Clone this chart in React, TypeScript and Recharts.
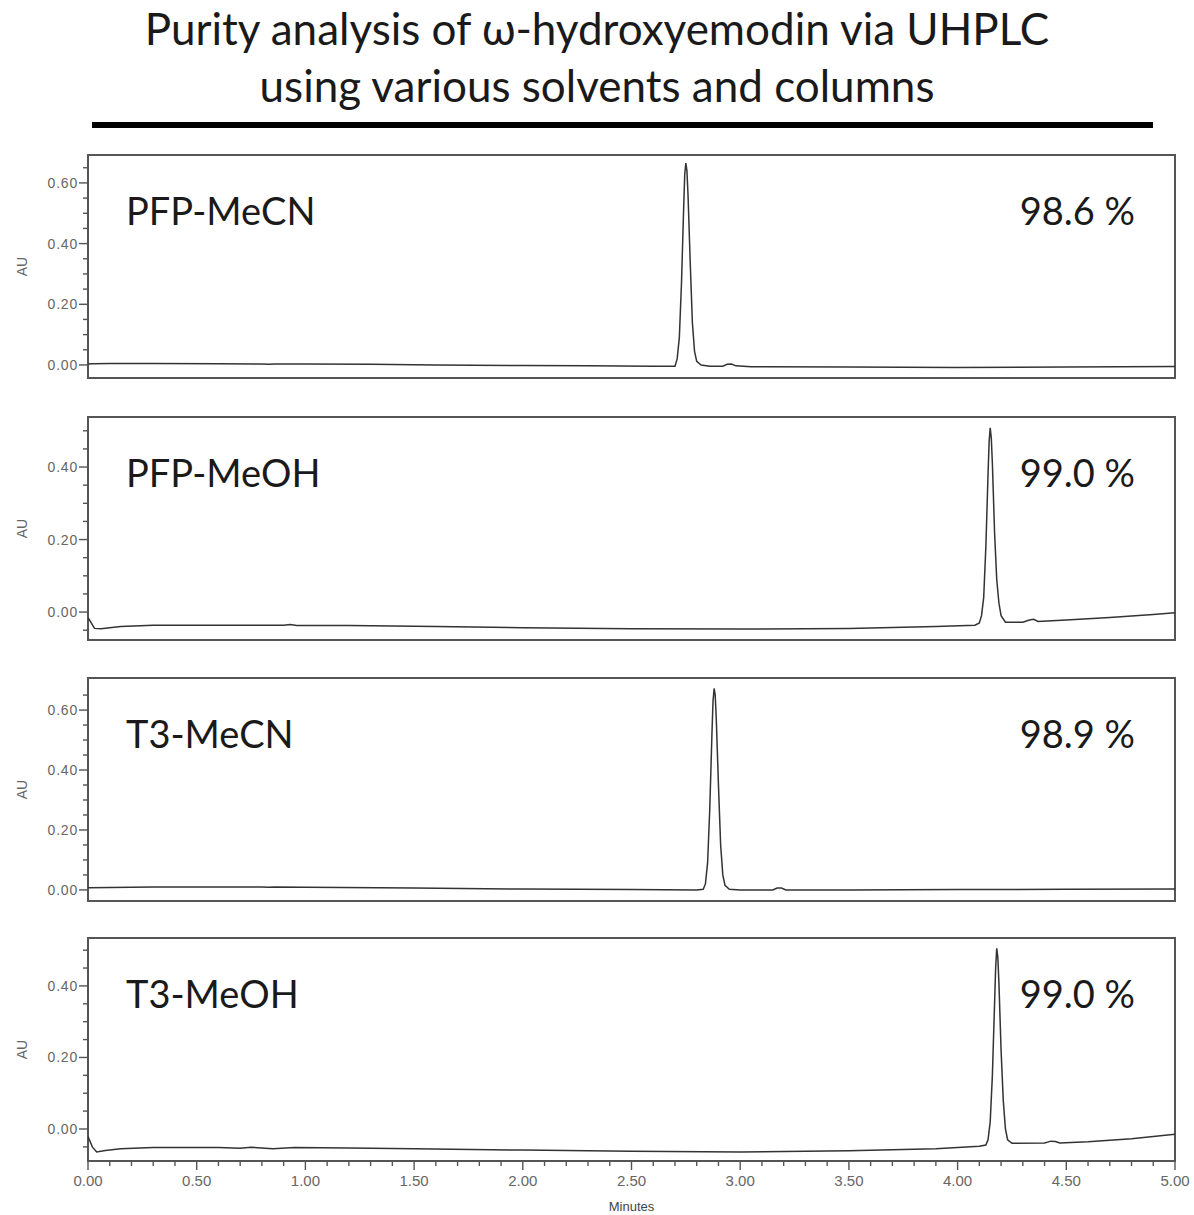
import { LineChart, Line, XAxis, YAxis, ReferenceArea } from "recharts";

// chromatogram traces, [minutes, AU]
const PFP_MECN: [number, number][] = [
  [0, 0.003], [0.02, 0.004], [0.1, 0.005], [0.3, 0.005], [0.6, 0.004], [0.8, 0.003],
  [0.83, 0.002], [0.86, 0.003], [1.0, 0.003], [1.3, 0.002], [1.6, 0.0], [2.0, -0.002],
  [2.3, -0.003], [2.6, -0.004], [2.7, -0.004], [2.71, 0.02], [2.72, 0.09], [2.73, 0.27],
  [2.74, 0.52], [2.745, 0.63], [2.75, 0.665], [2.755, 0.64], [2.76, 0.56], [2.77, 0.34],
  [2.78, 0.14], [2.79, 0.045], [2.8, 0.012], [2.82, 0.0], [2.86, -0.004], [2.92, -0.004],
  [2.94, 0.002], [2.96, 0.003], [2.98, -0.003], [3.05, -0.006], [3.5, -0.007],
  [4.0, -0.008], [4.5, -0.007], [5.0, -0.005],
];

const PFP_MEOH: [number, number][] = [
  [0, -0.015], [0.01, -0.025], [0.03, -0.045], [0.06, -0.046], [0.15, -0.04], [0.3, -0.036],
  [0.6, -0.036], [0.9, -0.036], [0.93, -0.034], [0.96, -0.037], [1.2, -0.037], [1.6, -0.04],
  [2.0, -0.043], [2.5, -0.046], [3.0, -0.047], [3.5, -0.045], [3.9, -0.04], [4.08, -0.036],
  [4.1, -0.03], [4.11, -0.01], [4.12, 0.04], [4.13, 0.18], [4.14, 0.38], [4.145, 0.47],
  [4.15, 0.508], [4.155, 0.48], [4.16, 0.41], [4.17, 0.22], [4.18, 0.09], [4.19, 0.025],
  [4.2, -0.01], [4.22, -0.028], [4.3, -0.028], [4.33, -0.022], [4.35, -0.02], [4.37, -0.026],
  [4.5, -0.022], [4.7, -0.015], [4.9, -0.007], [5.0, -0.002],
];

const T3_MECN: [number, number][] = [
  [0, 0.007], [0.1, 0.008], [0.3, 0.01], [0.6, 0.01], [0.8, 0.01], [0.83, 0.009],
  [0.86, 0.01], [1.0, 0.009], [1.5, 0.006], [2.0, 0.003], [2.5, 0.001], [2.8, 0.0],
  [2.83, 0.002], [2.84, 0.02], [2.85, 0.09], [2.86, 0.27], [2.87, 0.52], [2.875, 0.63],
  [2.88, 0.672], [2.885, 0.65], [2.89, 0.57], [2.9, 0.35], [2.91, 0.15], [2.92, 0.05],
  [2.93, 0.015], [2.95, 0.002], [3.0, 0.0], [3.15, 0.0], [3.17, 0.006], [3.19, 0.006],
  [3.21, 0.0], [3.5, 0.0], [4.0, 0.001], [4.5, 0.002], [5.0, 0.003],
];

const T3_MEOH: [number, number][] = [
  [0, -0.02], [0.005, -0.028], [0.02, -0.05], [0.04, -0.064], [0.08, -0.06], [0.15, -0.055],
  [0.3, -0.052], [0.6, -0.052], [0.7, -0.054], [0.75, -0.051], [0.85, -0.055], [0.95, -0.052],
  [1.2, -0.053], [1.5, -0.055], [2.0, -0.059], [2.5, -0.062], [3.0, -0.064], [3.5, -0.061],
  [3.9, -0.055], [4.1, -0.048], [4.13, -0.045], [4.14, -0.03], [4.15, 0.02], [4.16, 0.15],
  [4.17, 0.35], [4.175, 0.45], [4.18, 0.505], [4.185, 0.48], [4.19, 0.41], [4.2, 0.22],
  [4.21, 0.08], [4.22, 0.0], [4.23, -0.03], [4.25, -0.04], [4.4, -0.039], [4.43, -0.034],
  [4.45, -0.035], [4.47, -0.039], [4.6, -0.036], [4.8, -0.027], [5.0, -0.015],
];

const LABELS = ["PFP-MeCN", "PFP-MeOH", "T3-MeCN", "T3-MeOH"];
const PURITY = ["98.6 %", "99.0 %", "98.9 %", "99.0 %"];

const Y_TICKS_60 = [0, 0.05, 0.1, 0.15, 0.2, 0.25, 0.3, 0.35, 0.4, 0.45, 0.5, 0.55, 0.6, 0.65];
const Y_TICKS_40 = [-0.05, 0, 0.05, 0.1, 0.15, 0.2, 0.25, 0.3, 0.35, 0.4, 0.45, 0.5];
const X_TICKS = [
  0, 0.1, 0.2, 0.3, 0.4, 0.5, 0.6, 0.7, 0.8, 0.9, 1.0, 1.1, 1.2, 1.3, 1.4, 1.5, 1.6, 1.7,
  1.8, 1.9, 2.0, 2.1, 2.2, 2.3, 2.4, 2.5, 2.6, 2.7, 2.8, 2.9, 3.0, 3.1, 3.2, 3.3, 3.4, 3.5,
  3.6, 3.7, 3.8, 3.9, 4.0, 4.1, 4.2, 4.3, 4.4, 4.5, 4.6, 4.7, 4.8, 4.9, 5.0,
];

const W = 1194;
const BOX_H = 223;
const PAD = 5;
const X_AXIS_H = 52;
const GREY = "#555";
const TICK_FONT = "'Liberation Sans', Arial, sans-serif";

const panels = [
  { trace: PFP_MECN, domain: [-0.043, 0.692], ticks: Y_TICKS_60, top: 155 },
  { trace: PFP_MEOH, domain: [-0.077, 0.538], ticks: Y_TICKS_40, top: 417 },
  { trace: T3_MECN, domain: [-0.037, 0.707], ticks: Y_TICKS_60, top: 678 },
  { trace: T3_MEOH, domain: [-0.0895, 0.534], ticks: Y_TICKS_40, top: 938 },
];

function YTick(props: any) {
  const { x, y, payload } = props;
  const v = payload.value as number;
  const major = Math.abs(v * 5 - Math.round(v * 5)) < 1e-6;
  return (
    <g>
      <line x1={x - (major ? 9 : 5)} x2={x} y1={y} y2={y} stroke={GREY} strokeWidth={1.4} />
      {major && (
        <text x={x - 10} y={y} dy="0.36em" textAnchor="end" fill="#666" fontSize={14}
          fontFamily={TICK_FONT} letterSpacing={0.8}>
          {v.toFixed(2)}
        </text>
      )}
    </g>
  );
}

function XTick(props: any) {
  const { x, y, payload } = props;
  const v = payload.value as number;
  const major = Math.abs(v * 2 - Math.round(v * 2)) < 1e-6;
  return (
    <g>
      <line x1={x} x2={x} y1={y} y2={y + (major ? 9 : 5)} stroke={GREY} strokeWidth={1.4} />
      {major && (
        <text x={x} y={y + 20} dy="0.36em" textAnchor="middle" fill="#666" fontSize={15}
          fontFamily={TICK_FONT}>
          {v.toFixed(2)}
        </text>
      )}
    </g>
  );
}

function AuLabel(props: any) {
  const vb = props.viewBox;
  const cx = vb.x + 22;
  const cy = vb.y + vb.height / 2;
  return (
    <text x={cx} y={cy} dy="0.36em" textAnchor="middle" fill="#666" fontSize={14}
      fontFamily={TICK_FONT} transform={`rotate(-90 ${cx} ${cy})`}>
      AU
    </text>
  );
}

function Panel({ idx, showX }: { idx: number; showX: boolean }) {
  const p = panels[idx];
  const data = p.trace.map(([t, au]) => ({ t, au }));
  const height = PAD + BOX_H + (showX ? X_AXIS_H : PAD);
  const labelStyle = {
    position: "absolute" as const,
    top: PAD + 32,
    fontFamily: "Lato, 'Open Sans', sans-serif",
    fontSize: 38,
    lineHeight: "46px",
    color: "#1a1a1a",
    whiteSpace: "nowrap" as const,
  };
  return (
    <div style={{ position: "absolute", left: 0, top: p.top - PAD, width: W, height }}>
      <LineChart width={W} height={height} data={data}
        margin={{ top: PAD, right: 19, bottom: showX ? 0 : PAD, left: 0 }}>
        <XAxis type="number" dataKey="t" domain={[0, 5]} ticks={X_TICKS} interval={0}
          hide={!showX} height={X_AXIS_H} tickSize={0} tickMargin={0} axisLine={false}
          tickLine={false} tick={<XTick />} allowDataOverflow
          label={{ value: "Minutes", position: "insideBottom", offset: 2, fill: "#444",
            fontSize: 13, fontFamily: TICK_FONT }} />
        <YAxis type="number" domain={p.domain} ticks={p.ticks} interval={0} width={88}
          tickSize={0} tickMargin={0} axisLine={false} tickLine={false} tick={<YTick />}
          allowDataOverflow label={<AuLabel />} />
        <ReferenceArea x1={0} x2={5} y1={p.domain[0]} y2={p.domain[1]} fill="none"
          stroke={GREY} strokeWidth={2} ifOverflow="visible" />
        <Line type="linear" dataKey="au" stroke="#333" strokeWidth={1.5} dot={false}
          isAnimationActive={false} />
      </LineChart>
      <div style={{ ...labelStyle, left: 126 }}>{LABELS[idx]}</div>
      <div style={{ ...labelStyle, left: 0, width: 1135, textAlign: "right" }}>{PURITY[idx]}</div>
    </div>
  );
}

export default function App() {
  return (
    <div style={{ position: "absolute", left: 0, top: 0, width: W, height: 1215, background: "#fff" }}>
      <div style={{ position: "absolute", left: 0, top: 0, width: W, textAlign: "center",
        fontFamily: "Lato, 'Open Sans', sans-serif", fontSize: 44, lineHeight: "57px", color: "#1a1a1a" }}>
        <div>Purity analysis of ω-hydroxyemodin via UHPLC</div>
        <div>using various solvents and columns</div>
      </div>
      <div style={{ position: "absolute", left: 92, top: 122, width: 1061, height: 6, background: "#000" }} />
      {panels.map((_, i) => (
        <Panel key={i} idx={i} showX={i === panels.length - 1} />
      ))}
    </div>
  );
}
